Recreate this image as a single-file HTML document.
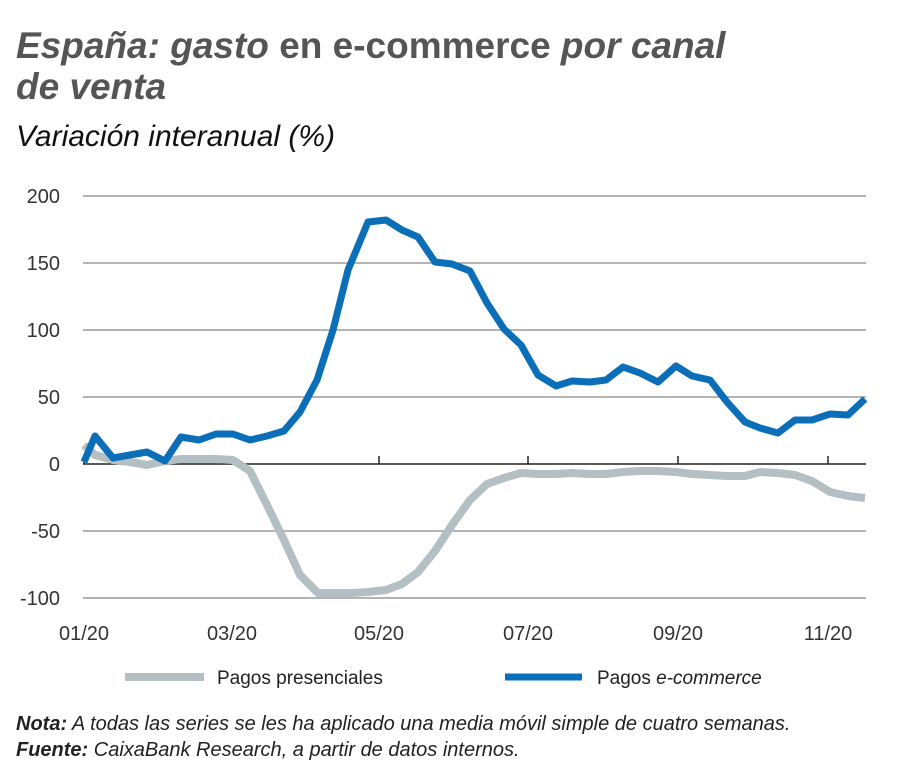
<!DOCTYPE html>
<html><head><meta charset="utf-8"><style>
body{margin:0;background:#fff;width:900px;height:775px;overflow:hidden;font-family:"Liberation Sans",sans-serif;}
</style></head><body>
<svg width="900" height="775" xmlns="http://www.w3.org/2000/svg" font-family="Liberation Sans, sans-serif">
<text x="16" y="58" font-size="37" font-weight="bold" fill="#555" font-style="italic">España: gasto <tspan font-style="normal">en e-commerce</tspan> por canal</text>
<text x="16" y="99" font-size="37" font-weight="bold" fill="#555" font-style="italic">de venta</text>
<text x="16" y="146" font-size="30" font-style="italic" fill="#111">Variación interanual (%)</text>
<g stroke="#888" stroke-width="1.3">
<line x1="83" y1="196" x2="866" y2="196"/><line x1="83" y1="263" x2="866" y2="263"/>
<line x1="83" y1="330" x2="866" y2="330"/><line x1="83" y1="397" x2="866" y2="397"/>
<line x1="83" y1="531" x2="866" y2="531"/><line x1="83" y1="598" x2="866" y2="598"/>
</g>
<g stroke="#222" stroke-width="1.5">
<line x1="83" y1="464" x2="866" y2="464"/>
<line x1="84" y1="456" x2="84" y2="464"/><line x1="232" y1="456" x2="232" y2="464"/>
<line x1="379" y1="456" x2="379" y2="464"/><line x1="528" y1="456" x2="528" y2="464"/>
<line x1="678" y1="456" x2="678" y2="464"/><line x1="828" y1="456" x2="828" y2="464"/>
</g>
<g font-size="20" fill="#333" text-anchor="end">
<text x="60" y="203">200</text><text x="60" y="270">150</text><text x="60" y="337">100</text>
<text x="60" y="404">50</text><text x="60" y="471">0</text><text x="60" y="538">-50</text><text x="60" y="605">-100</text>
</g>
<g font-size="20" fill="#333" text-anchor="middle">
<text x="84" y="640">01/20</text><text x="232" y="640">03/20</text><text x="379" y="640">05/20</text>
<text x="528" y="640">07/20</text><text x="678" y="640">09/20</text><text x="828" y="640">11/20</text>
</g>
<polyline fill="none" stroke="#b4bfc3" stroke-width="8" stroke-linejoin="round" points="84,445 95,455 113,460 130,462 147,465 165,461 181,459 200,459 216,459 233,460 250,471 267,505 284,540 300,575 318,593 335,593 352,593 368,592 386,590 402,584 418,572 435,551 452,525 470,500 487,484 504,478 521,473 538,474 556,474 572,473 590,474 606,474 623,472 640,471 658,471 676,472 692,474 710,475 727,476 745,476 760,472 778,473 795,475 812,481 830,492 848,496 865,498"/>
<polyline fill="none" stroke="#0a6fb8" stroke-width="7" stroke-linejoin="round" points="84,462 95,436 113,458 130,455 147,452 165,461 181,437 199,440 216,434 233,434 250,440 267,436 284,431 300,412 317,380 333,330 348,270 368,222 386,220 402,230 418,237 435,262 452,264 470,271 487,303 504,329 521,345 538,375 556,386 572,381 590,382 606,380 623,367 640,373 658,382 676,366 692,376 710,380 727,402 745,422 760,428 778,433 795,420 812,420 830,414 848,415 865,399"/>
<line x1="125" y1="677" x2="204" y2="677" stroke="#b4bfc3" stroke-width="8"/>
<text x="217" y="684" font-size="19" fill="#222">Pagos presenciales</text>
<line x1="505" y1="677" x2="582" y2="677" stroke="#0a6fb8" stroke-width="7"/>
<text x="597" y="684" font-size="19" fill="#222">Pagos <tspan font-style="italic">e-commerce</tspan></text>
<text x="16" y="730" font-size="20" fill="#222" font-style="italic"><tspan font-weight="bold">Nota:</tspan> A todas las series se les ha aplicado una media móvil simple de cuatro semanas.</text>
<text x="16" y="756" font-size="20" fill="#222" font-style="italic"><tspan font-weight="bold">Fuente:</tspan> CaixaBank Research, a partir de datos internos.</text>
</svg>
</body></html>
